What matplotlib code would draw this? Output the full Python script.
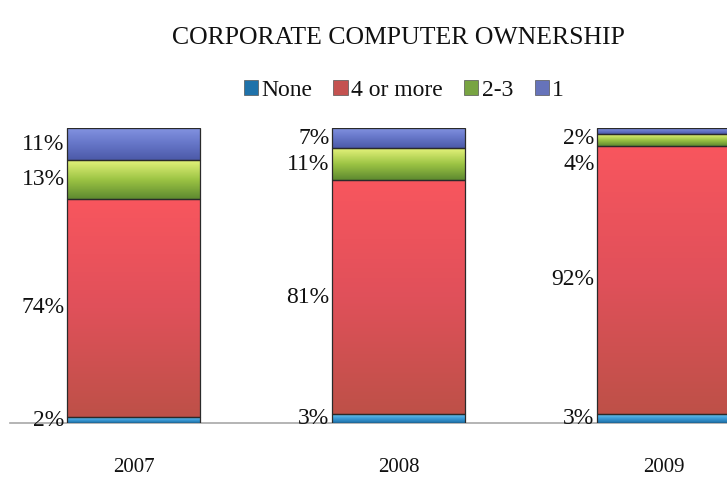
import numpy as np
import matplotlib
matplotlib.use("Agg")
import matplotlib.pyplot as plt
from matplotlib.patches import Patch
from matplotlib.colors import LinearSegmentedColormap
from matplotlib.transforms import blended_transform_factory

plt.rcParams['font.family'] = ['Liberation Serif', 'DejaVu Serif']

# ---- data -------------------------------------------------------------
years = ["2007", "2008", "2009"]
series = ["None", "4 or more", "2-3", "1"]
none_pct = [2, 3, 3]
four_plus_pct = [74, 81, 92]
two_three_pct = [13, 11, 4]
one_pct = [11, 7, 2]
title = "CORPORATE COMPUTER OWNERSHIP"

values = [none_pct, four_plus_pct, two_three_pct, one_pct]

# ---- styling ----------------------------------------------------------
gradients = {
    "None": ["#6CC4F0", "#3A9AD6", "#1C6FA6"],
    "4 or more": ["#F8565E", "#E0505A", "#BE5048"],
    "2-3": ["#E4F27A", "#9CC444", "#5E8A30"],
    "1": ["#8494E2", "#6676C8", "#4C5AA8"],
}
legend_colors = {
    "None": "#1F72AA",
    "4 or more": "#C45250",
    "2-3": "#78A442",
    "1": "#6673BA",
}
edge = "#2A2A2A"
text_color = "#111111"

fig = plt.figure(figsize=(7.27, 4.78), dpi=100)
ax = fig.add_axes([10 / 727, 55 / 478, 717 / 727, 295 / 478])

x = np.arange(len(years))
width = 0.5

totals = np.sum(np.array(values, dtype=float), axis=0)
bottoms = np.zeros(len(years))
segments = []  # (bar index, bottom, height, stated value)
for s, vals in zip(series, values):
    frac = np.array(vals, dtype=float) / totals * 100
    bars = ax.bar(x, frac, width, bottom=bottoms, facecolor="none",
                  edgecolor=edge, linewidth=0.9, zorder=3)
    cmap = LinearSegmentedColormap.from_list(s, gradients[s][::-1])
    for i, b in enumerate(bars):
        grad = np.linspace(0, 1, 64).reshape(-1, 1)
        im = ax.imshow(grad, cmap=cmap, origin="lower", aspect="auto",
                       extent=(x[i] - width / 2, x[i] + width / 2,
                               bottoms[i], bottoms[i] + frac[i]),
                       zorder=2, interpolation="bilinear")
        im.set_clip_path(b)
        segments.append((i, bottoms[i], frac[i], vals[i]))
    bottoms = bottoms + frac

ax.set_xlim(-0.466, 2.2396)
ax.set_ylim(0, 100)

# value labels to the left of each bar, spread apart where segments are thin
min_gap = 9.0
top_cap = 96.5
for i in range(len(years)):
    segs = [sg for sg in segments if sg[0] == i]
    segs.sort(key=lambda sg: -(sg[1] + sg[2] / 2))
    prev = None
    for (_, bot, h, raw) in segs:
        yc = min(bot + h / 2, top_cap)
        if prev is not None:
            yc = min(yc, prev - min_gap)
        prev = yc
        ax.text(x[i] - width / 2 - 0.01, yc, f"{raw}%", ha="right",
                va="center", fontsize=17, color=text_color, zorder=5,
                clip_on=False)

# axes styling
for sp in ["top", "right", "left"]:
    ax.spines[sp].set_visible(False)
ax.spines["bottom"].set_color("#A8A8A8")
ax.spines["bottom"].set_linewidth(1.2)
ax.spines["bottom"].set_zorder(1)
ax.set_yticks([])
ax.set_xticks(x)
ax.set_xticklabels(years, fontsize=15, color=text_color)
ax.tick_params(axis="x", length=0, pad=25)

# title and legend centred over the middle bar
tr = blended_transform_factory(ax.transData, fig.transFigure)
ax.text(1, 1 - 38 / 478, title, transform=tr, ha="center", va="center",
        fontsize=18.5, color=text_color)

handles = [Patch(facecolor=legend_colors[s], edgecolor="#555555",
                 linewidth=0.5, label=s) for s in series]
leg = ax.legend(handles=handles, loc="center", ncol=4, frameon=False,
                bbox_to_anchor=(1.02, 1 - 90 / 478), bbox_transform=tr,
                prop={"size": 17}, handlelength=0.6, handleheight=0.6,
                handletextpad=0.15, columnspacing=0.9, labelcolor=text_color)

fig.savefig("out.png", dpi=100)
